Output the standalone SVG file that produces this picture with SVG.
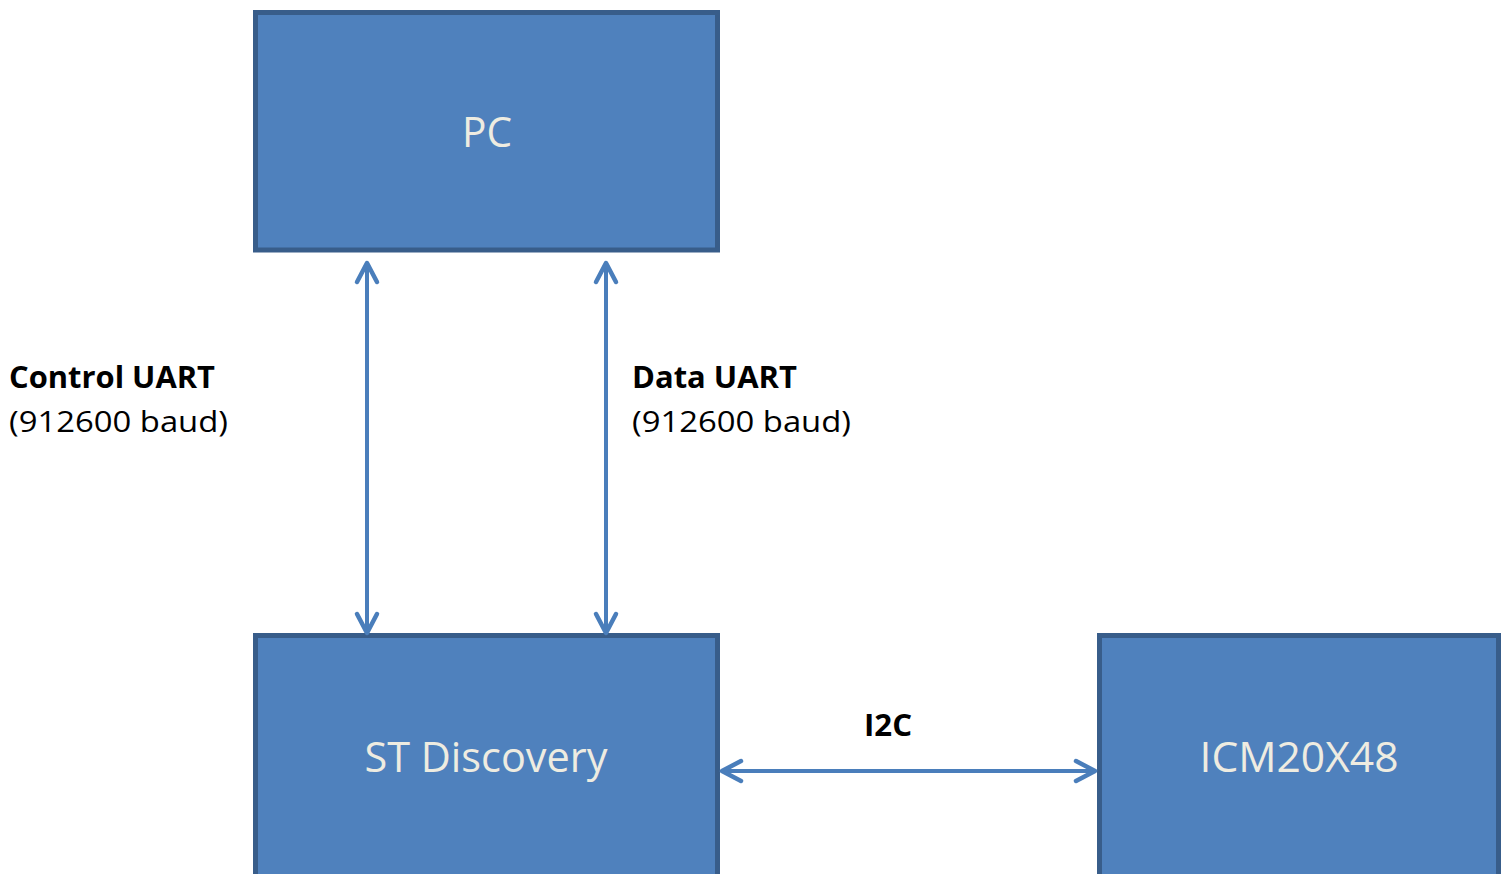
<svg xmlns="http://www.w3.org/2000/svg" width="1507" height="874" viewBox="0 0 1507 874">
<style>
.box{fill:#4f81bd;stroke:#385d8a;stroke-width:5}
.nt{font-family:"Open Sans","Noto Sans",sans-serif;fill:#eeece1;font-size:42px;text-anchor:middle}
.lb{font-family:"Open Sans","Noto Sans",sans-serif;fill:#000;font-size:30px}
.b{font-weight:bold}
.cn{stroke:#4a7ebb;stroke-width:4;fill:none}
</style>
<defs>
<marker id="ah" markerWidth="30" markerHeight="30" viewBox="-24 -15 30 30" refX="0" refY="0" orient="auto-start-reverse" markerUnits="userSpaceOnUse" overflow="visible">
<path d="M-19,-10 L0,0 L-19,10" fill="none" stroke="#4a7ebb" stroke-width="4.5" stroke-linecap="round" stroke-linejoin="round"/>
</marker>
</defs>
<rect width="1507" height="874" fill="#fff"/>
<g id="pc">
<rect class="box" x="255.5" y="12.5" width="462" height="237.5"/>
<text class="nt" x="487" y="147" textLength="50" lengthAdjust="spacingAndGlyphs">PC</text>
</g>
<g id="st">
<rect class="box" x="255.5" y="635.5" width="462" height="250"/>
<text class="nt" x="486" y="772" textLength="243" lengthAdjust="spacingAndGlyphs">ST Discovery</text>
</g>
<g id="icm">
<rect class="box" x="1099.5" y="635.5" width="399" height="250"/>
<text class="nt" x="1299" y="772" textLength="199" lengthAdjust="spacingAndGlyphs">ICM20X48</text>
</g>
<g id="connectors">
<line class="cn" x1="367" y1="263" x2="367" y2="633" marker-start="url(#ah)" marker-end="url(#ah)"/>
<line class="cn" x1="606" y1="263" x2="606" y2="633" marker-start="url(#ah)" marker-end="url(#ah)"/>
<line class="cn" x1="722" y1="771" x2="1095" y2="771" marker-start="url(#ah)" marker-end="url(#ah)"/>
</g>
<g id="labels">
<text class="lb b" x="9" y="388" textLength="206" lengthAdjust="spacingAndGlyphs">Control UART</text>
<text class="lb" x="9" y="432" textLength="219" lengthAdjust="spacingAndGlyphs">(912600 baud)</text>
<text class="lb b" x="632" y="388" textLength="165" lengthAdjust="spacingAndGlyphs">Data UART</text>
<text class="lb" x="632" y="432" textLength="219" lengthAdjust="spacingAndGlyphs">(912600 baud)</text>
<text class="lb b" x="864" y="736" textLength="48" lengthAdjust="spacingAndGlyphs">I2C</text>
</g>
</svg>
